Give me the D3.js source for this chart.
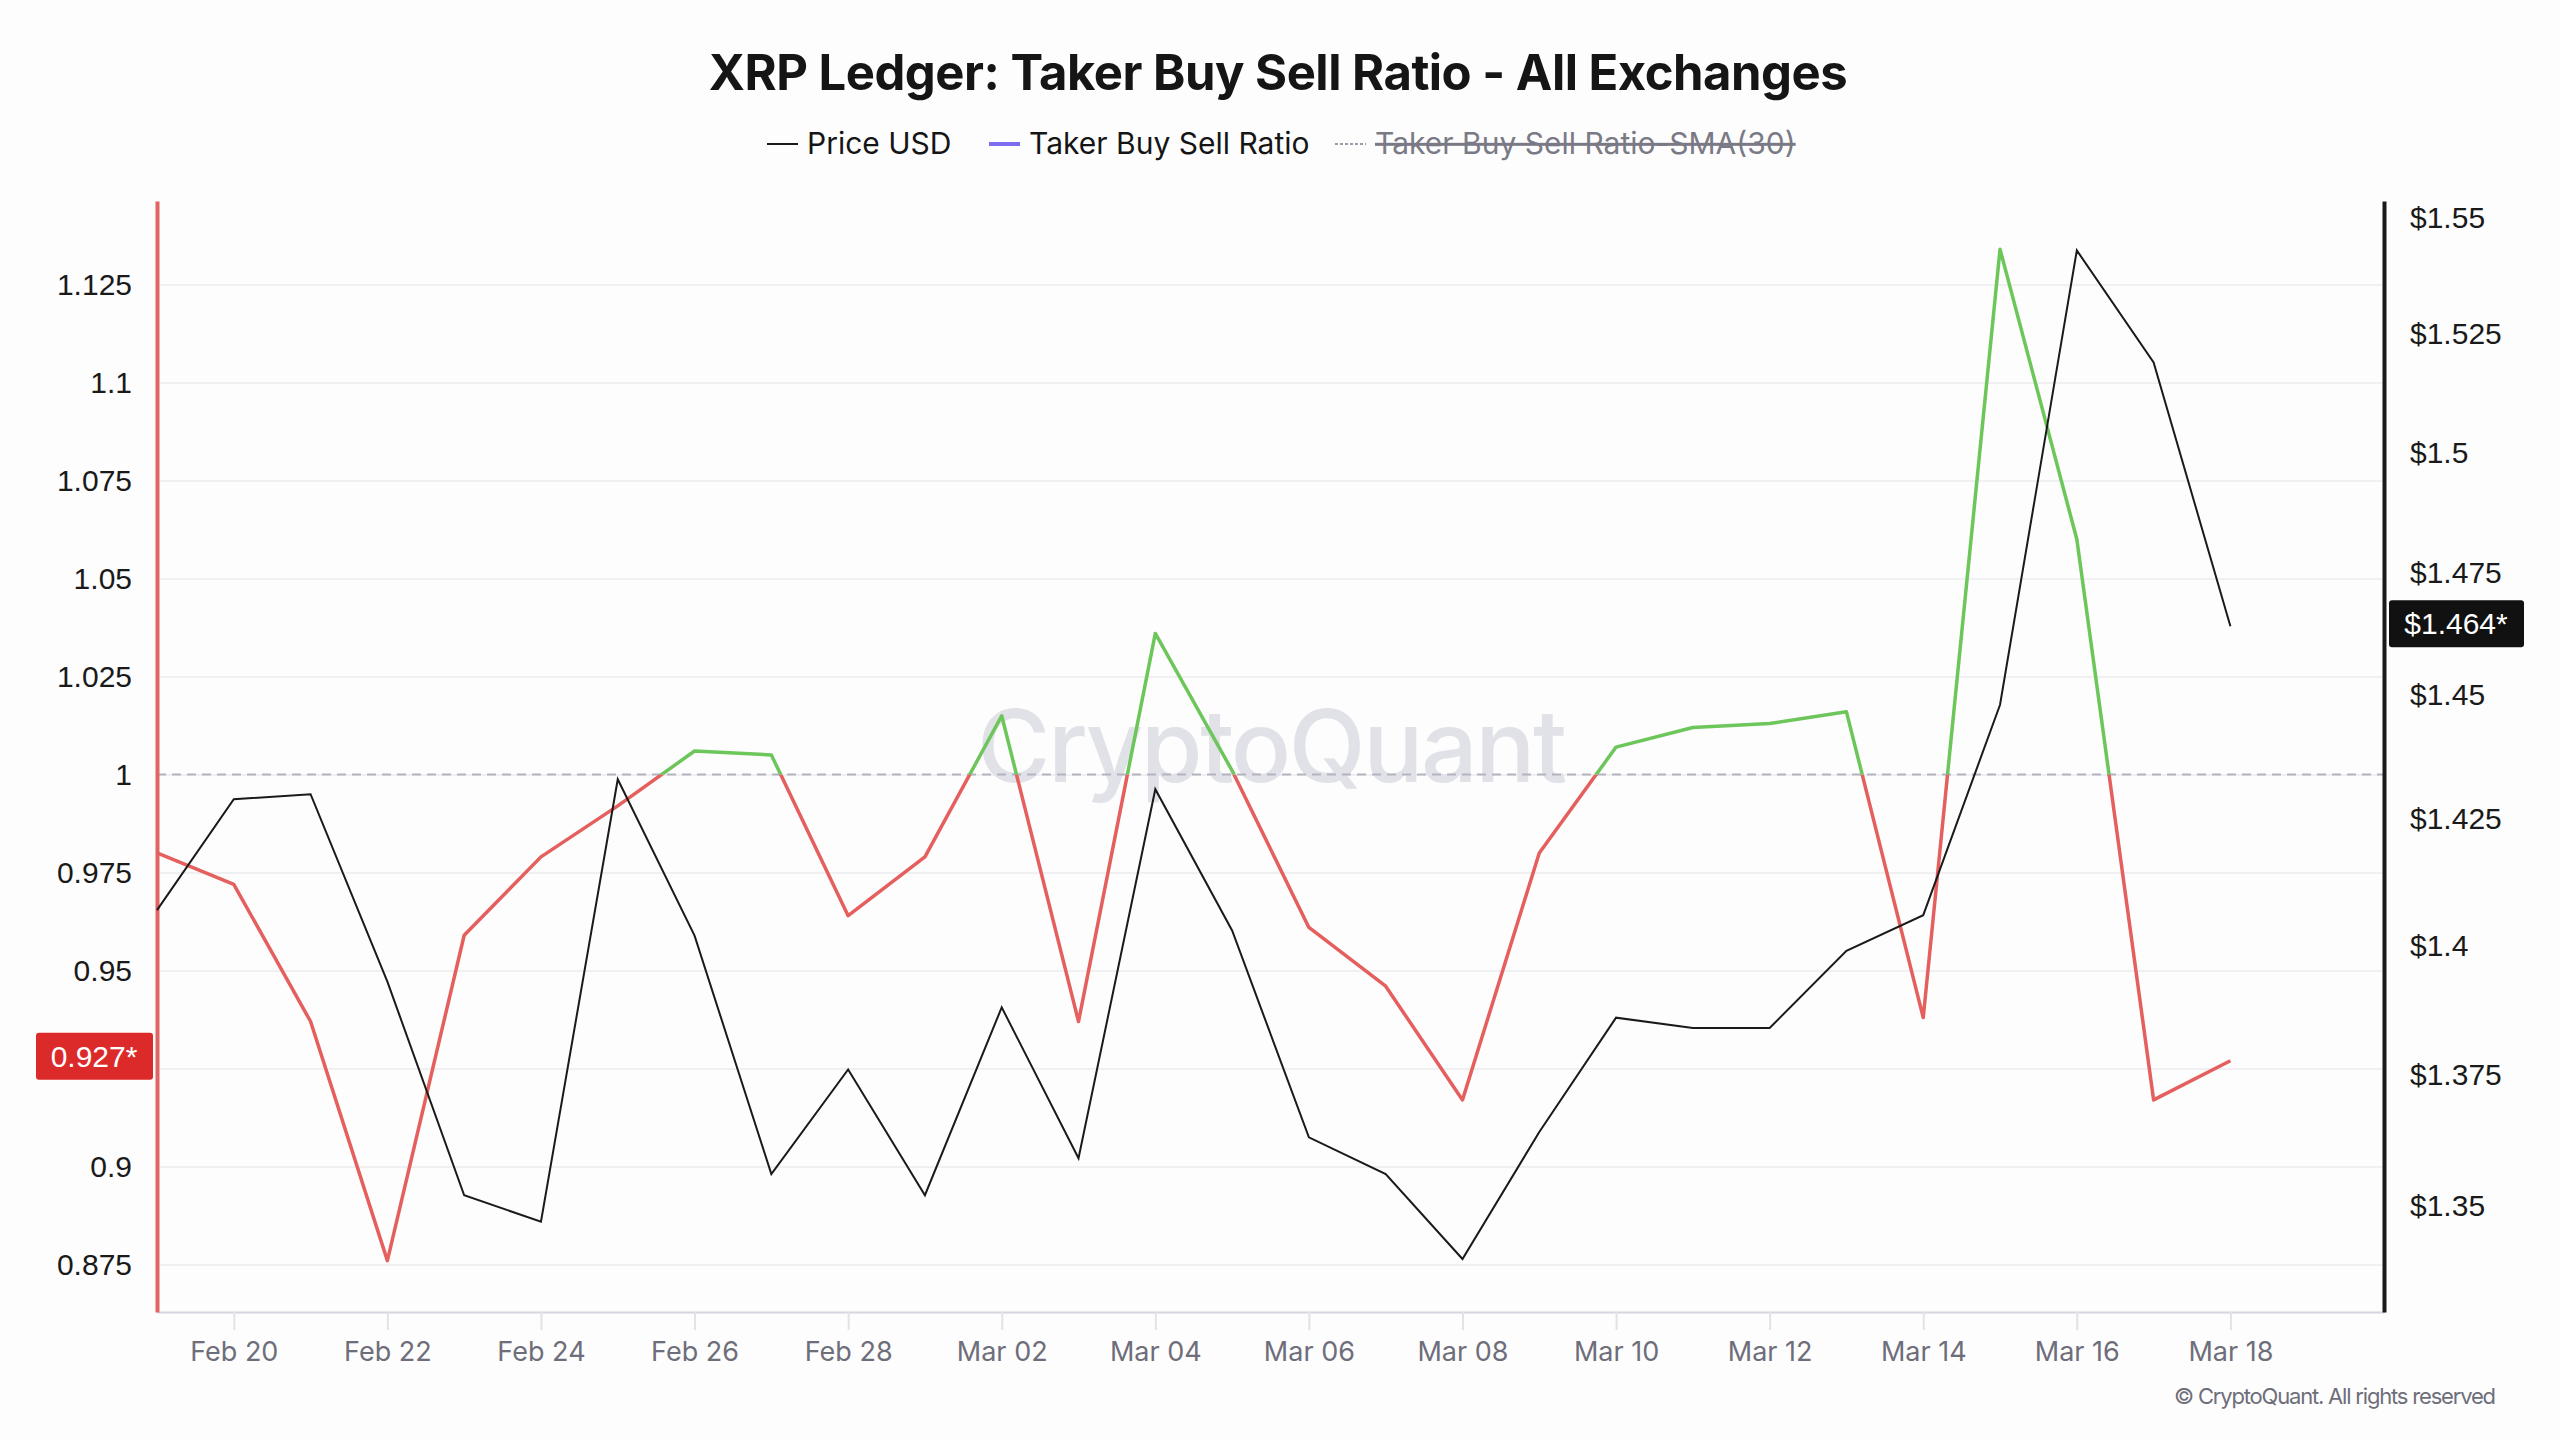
<!DOCTYPE html>
<html>
<head>
<meta charset="utf-8">
<script src="https://cdn.jsdelivr.net/npm/d3@7"></script>
<style>
  html, body { margin: 0; padding: 0; background: #fdfdfd; }
  svg { display: block; }
</style>
</head>
<body>
<div class="chart"></div>
<script>
// data
const dates = ['2025-02-19','2025-02-20','2025-02-21','2025-02-22','2025-02-23','2025-02-24','2025-02-25',
  '2025-02-26','2025-02-27','2025-02-28','2025-03-01','2025-03-02','2025-03-03','2025-03-04','2025-03-05',
  '2025-03-06','2025-03-07','2025-03-08','2025-03-09','2025-03-10','2025-03-11','2025-03-12','2025-03-13',
  '2025-03-14','2025-03-15','2025-03-16','2025-03-17','2025-03-18'];
const ratio = [0.980, 0.972, 0.937, 0.876, 0.959, 0.979, 0.992, 1.006, 1.005, 0.964, 0.979, 1.015, 0.937, 1.036,
  1.001, 0.961, 0.946, 0.917, 0.980, 1.007, 1.012, 1.013, 1.016, 0.938, 1.134, 1.060, 0.917, 0.927];
const price = [1.407, 1.429, 1.430, 1.393, 1.352, 1.347, 1.433, 1.402, 1.356, 1.376, 1.352, 1.388, 1.359, 1.431,
  1.403, 1.363, 1.356, 1.340, 1.364, 1.386, 1.384, 1.384, 1.399, 1.406, 1.448, 1.543, 1.519, 1.464];
const ratioTicks = [0.875, 0.9, 0.925, 0.95, 0.975, 1, 1.025, 1.05, 1.075, 1.1, 1.125];
const priceTicks = [1.35, 1.375, 1.4, 1.425, 1.45, 1.475, 1.5, 1.525, 1.55];
const dateTicks = ['2025-02-20','2025-02-22','2025-02-24','2025-02-26','2025-02-28','2025-03-02','2025-03-04',
  '2025-03-06','2025-03-08','2025-03-10','2025-03-12','2025-03-14','2025-03-16','2025-03-18'];
const legendItems = [
  { name: 'Price USD', color: '#1a1a1a', dash: null, off: false },
  { name: 'Taker Buy Sell Ratio', color: '#7b6cf0', dash: null, off: false },
  { name: 'Taker Buy Sell Ratio-SMA(30)', color: '#9a9aa6', dash: '3,2', off: true }
];

const W = 2560, H = 1440;
const margin = { top: 201, right: 176, bottom: 128, left: 157 };
const parse = d3.utcParse('%Y-%m-%d');
const rows = dates.map((d, i) => ({ date: parse(d), ratio: ratio[i], price: price[i] }));

const svg = d3.select('.chart').append('svg')
  .attr('width', W)
  .attr('height', H)
  .style('font-family', 'Inter, "Liberation Sans", sans-serif');

svg.append('rect').attr('width', W).attr('height', H).attr('fill', '#fdfdfd');

const x = d3.scaleUtc()
  .domain([parse('2025-02-19'), parse('2025-03-20')])
  .range([margin.left, W - margin.right]);
const yL = d3.scaleLinear()
  .domain([0.8629, 1.1463])
  .range([H - margin.bottom, margin.top]);
const yR = d3.scaleLog()
  .domain([1.3301, 1.5537])
  .range([H - margin.bottom, margin.top]);

const num = d => String(+d.toFixed(3));
const lastR = ratio[ratio.length - 1];
const lastP = price[price.length - 1];

// title + legend
svg.append('text')
  .attr('x', 1278).attr('y', 90)
  .attr('text-anchor', 'middle')
  .attr('font-size', 49).attr('font-weight', 700)
  .attr('letter-spacing', -0.5)
  .attr('fill', '#151515')
  .text('XRP Ledger: Taker Buy Sell Ratio - All Exchanges');

const legendX = [767, 989, 1335];
const lg = svg.append('g').selectAll('g').data(legendItems).enter().append('g')
  .attr('transform', (d, i) => `translate(${legendX[i]},144)`);
lg.append('line')
  .attr('x1', 0).attr('x2', 31)
  .attr('stroke', d => d.color)
  .attr('stroke-width', (d, i) => i === 1 ? 4 : 2)
  .attr('stroke-dasharray', d => d.dash);
lg.append('text')
  .attr('x', 40).attr('y', 10)
  .attr('font-size', 30)
  .attr('fill', d => d.off ? '#7a7a86' : '#151515')
  .attr('text-decoration', d => d.off ? 'line-through' : null)
  .text(d => d.name);

// gridlines
svg.append('g')
  .attr('transform', `translate(${margin.left},0)`)
  .call(d3.axisLeft(yL).tickValues(ratioTicks).tickSize(-(W - margin.left - margin.right)).tickFormat(''))
  .call(g => g.select('.domain').remove())
  .call(g => g.selectAll('line').attr('stroke', '#f0f0f2').attr('stroke-width', 2));

// watermark
svg.append('text')
  .attr('x', 1272).attr('y', 782)
  .attr('text-anchor', 'middle')
  .attr('font-size', 100).attr('font-weight', 500)
  .attr('textLength', 590)
  .attr('fill', '#e1e1e8')
  .text('CryptoQuant');

// 1.0 reference line
svg.append('line')
  .attr('x1', margin.left).attr('x2', W - margin.right)
  .attr('y1', yL(1)).attr('y2', yL(1))
  .attr('stroke', '#b4b4c0').attr('stroke-width', 2)
  .attr('stroke-dasharray', '9,6');

// bottom axis
const xAxis = svg.append('g')
  .attr('transform', `translate(0,${H - margin.bottom})`)
  .call(d3.axisBottom(x).tickValues(dateTicks.map(parse)).tickSize(18).tickSizeOuter(0).tickPadding(12)
    .tickFormat(d3.utcFormat('%b %d')));
xAxis.select('.domain').attr('stroke', '#d6d6de').attr('stroke-width', 2);
xAxis.selectAll('.tick line').attr('stroke', '#e2e2e8').attr('stroke-width', 2);
xAxis.selectAll('text')
  .attr('font-family', 'Inter, sans-serif')
  .attr('font-size', 27)
  .attr('fill', '#6e6e7a');

// left axis (the tick under the last-value badge stays hidden, as in the source)
const yAxisL = svg.append('g')
  .attr('transform', `translate(${margin.left},0)`)
  .call(d3.axisLeft(yL).tickValues(ratioTicks).tickSize(0).tickSizeOuter(0).tickPadding(25).tickFormat(num));
yAxisL.select('.domain').attr('stroke', '#e06463').attr('stroke-width', 4);
yAxisL.selectAll('text')
  .attr('font-family', '"Liberation Sans", Arial, sans-serif')
  .attr('font-size', 30).attr('fill', '#1a1a1a');
yAxisL.selectAll('.tick').filter(d => Math.abs(yL(d) - yL(lastR)) < 30).select('text').remove();

// right axis
const yAxisR = svg.append('g')
  .attr('transform', `translate(${W - margin.right},0)`)
  .call(d3.axisRight(yR).tickValues(priceTicks).tickSize(0).tickSizeOuter(0).tickPadding(26).tickFormat(d => '$' + num(d)));
yAxisR.select('.domain').attr('stroke', '#1a1a1a').attr('stroke-width', 4);
yAxisR.selectAll('text')
  .attr('font-family', '"Liberation Sans", Arial, sans-serif')
  .attr('font-size', 30).attr('fill', '#1a1a1a');

// ratio line: green above 1, red below
const defs = svg.append('defs');
defs.append('clipPath').attr('id', 'above').append('rect')
  .attr('x', margin.left).attr('y', 0)
  .attr('width', W).attr('height', yL(1));
defs.append('clipPath').attr('id', 'below').append('rect')
  .attr('x', margin.left).attr('y', yL(1))
  .attr('width', W).attr('height', H);

const ratioLine = d3.line().x(d => x(d.date)).y(d => yL(d.ratio));
svg.append('path').datum(rows)
  .attr('clip-path', 'url(#below)')
  .attr('fill', 'none').attr('stroke', '#e45f5d').attr('stroke-width', 3.5)
  .attr('stroke-linejoin', 'round')
  .attr('d', ratioLine);
svg.append('path').datum(rows)
  .attr('clip-path', 'url(#above)')
  .attr('fill', 'none').attr('stroke', '#6cc65a').attr('stroke-width', 3.5)
  .attr('stroke-linejoin', 'round')
  .attr('d', ratioLine);

// price line
const priceLine = d3.line().x(d => x(d.date)).y(d => yR(d.price));
svg.append('path').datum(rows)
  .attr('fill', 'none').attr('stroke', '#1a1a1a').attr('stroke-width', 2)
  .attr('d', priceLine);

// last value badges
const rb = svg.append('g').attr('transform', `translate(0,${yL(lastR) - 5})`);
rb.append('rect').attr('x', 36).attr('y', -23).attr('width', 117).attr('height', 47)
  .attr('rx', 3).attr('fill', '#dc2a2a');
rb.append('text').attr('x', 94).attr('y', 11).attr('text-anchor', 'middle')
  .attr('font-family', '"Liberation Sans", Arial, sans-serif')
  .attr('font-size', 30).attr('fill', '#fff')
  .text(num(lastR) + '*');
const pb = svg.append('g').attr('transform', `translate(0,${yR(lastP) - 3})`);
pb.append('rect').attr('x', 2389).attr('y', -23).attr('width', 135).attr('height', 47)
  .attr('rx', 3).attr('fill', '#111');
pb.append('text').attr('x', 2456).attr('y', 11).attr('text-anchor', 'middle')
  .attr('font-family', '"Liberation Sans", Arial, sans-serif')
  .attr('font-size', 30).attr('fill', '#fff')
  .text('$' + num(lastP) + '*');

// footer
svg.append('text')
  .attr('x', 2496).attr('y', 1404)
  .attr('text-anchor', 'end')
  .attr('font-size', 22)
  .attr('textLength', 322)
  .attr('fill', '#6e6e7a')
  .text('\u00A9 CryptoQuant. All rights reserved');
</script>
</body>
</html>
